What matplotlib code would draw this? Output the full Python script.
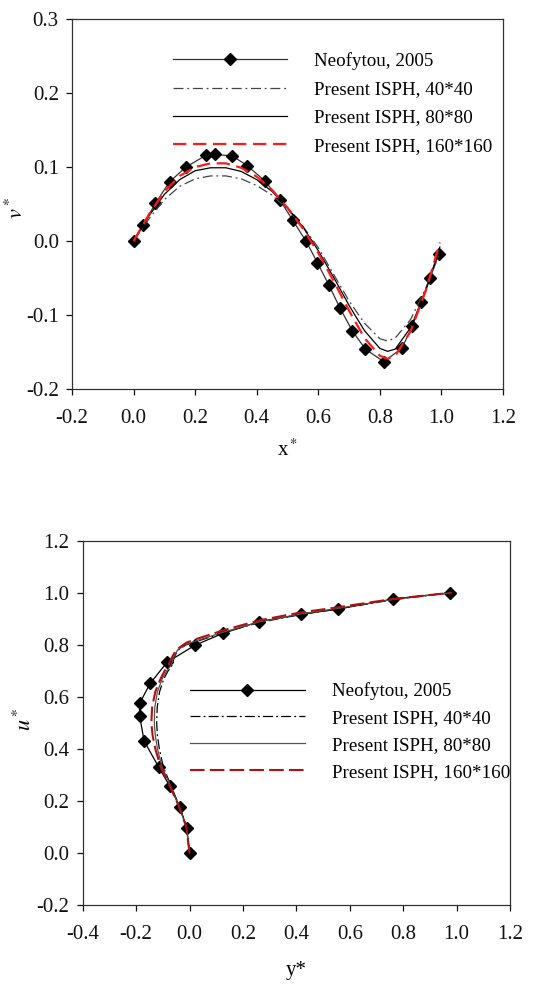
import matplotlib
matplotlib.use("Agg")
import matplotlib.pyplot as plt

plt.rcParams["font.family"] = ["Liberation Serif", "DejaVu Serif"]
plt.rcParams["mathtext.fontset"] = "stix"

# top panel: v* along x*
ref_x = [0.0, 0.032, 0.071, 0.117, 0.170, 0.236, 0.264, 0.321, 0.369, 0.427, 0.475, 0.517,
         0.560, 0.597, 0.635, 0.670, 0.710, 0.753, 0.813, 0.871, 0.906, 0.933, 0.963, 0.991]
ref_v = [0.0, 0.022, 0.051, 0.080, 0.100, 0.116, 0.117, 0.115, 0.102, 0.081, 0.056, 0.028,
         0.0, -0.029, -0.060, -0.090, -0.121, -0.146, -0.163, -0.145, -0.115, -0.083, -0.050, -0.017]

isph_x = [0.0, 0.05, 0.1, 0.15, 0.2, 0.25, 0.3, 0.35, 0.4, 0.45, 0.5, 0.55, 0.6, 0.65, 0.7,
          0.75, 0.8, 0.825, 0.85, 0.9, 0.95, 0.995]
v_40 = [0.0, 0.030, 0.056, 0.074, 0.084, 0.088, 0.088, 0.084, 0.075, 0.062, 0.043, 0.020,
        -0.009, -0.045, -0.081, -0.111, -0.132, -0.135, -0.131, -0.106, -0.063, -0.016]
v_80 = [0.0, 0.034, 0.063, 0.083, 0.095, 0.099, 0.099, 0.094, 0.083, 0.067, 0.045, 0.019,
        -0.013, -0.049, -0.087, -0.121, -0.145, -0.149, -0.146, -0.117, -0.066, -0.008]
v_160 = [0.0, 0.036, 0.067, 0.088, 0.100, 0.105, 0.105, 0.099, 0.087, 0.069, 0.045, 0.017,
         -0.016, -0.054, -0.094, -0.131, -0.155, -0.159, -0.155, -0.122, -0.066, -0.002]

# bottom panel: u* along y*
ref_y = [0.0, -0.010, -0.037, -0.074, -0.115, -0.170, -0.187, -0.187, -0.147, -0.084, 0.022,
         0.125, 0.262, 0.416, 0.556, 0.762, 0.977]
ref_u = [0.0, 0.096, 0.178, 0.257, 0.329, 0.430, 0.528, 0.575, 0.652, 0.733, 0.799,
         0.844, 0.889, 0.917, 0.937, 0.976, 1.000]

u_pts = [0.0, 0.1, 0.18, 0.26, 0.33, 0.40, 0.45, 0.50, 0.56, 0.62, 0.67, 0.70, 0.72, 0.755, 0.78]
y_40 = [0.0, -0.012, -0.038, -0.070, -0.098, -0.113, -0.120, -0.123, -0.121, -0.112, -0.096,
        -0.080, -0.066, -0.056, -0.043]
y_80 = [0.0, -0.012, -0.040, -0.072, -0.103, -0.120, -0.128, -0.132, -0.130, -0.120, -0.102,
        -0.085, -0.070, -0.058, -0.045]
y_160 = [0.0, -0.012, -0.040, -0.075, -0.108, -0.128, -0.138, -0.143, -0.140, -0.128, -0.108,
         -0.093, -0.080, -0.064, -0.050]
# upper branch, shared y* positions
top_y = [-0.012, 0.025, 0.125, 0.262, 0.416, 0.556, 0.762, 0.98]
top_u_40 = [0.800, 0.812, 0.846, 0.886, 0.916, 0.938, 0.973, 1.0]
top_u_80 = [0.802, 0.815, 0.848, 0.888, 0.918, 0.940, 0.974, 1.0]
top_u_160 = [0.808, 0.822, 0.855, 0.894, 0.924, 0.944, 0.976, 1.0]

labels = ["Neofytou, 2005", "Present ISPH, 40*40", "Present ISPH, 80*80", "Present ISPH, 160*160"]


def style_axes(ax):
    for s in ax.spines.values():
        s.set_color("#333333")
        s.set_linewidth(0.9)
    ax.tick_params(direction="out", length=4.5, width=0.9, labelsize=15, colors="#111111",
                   top=False, right=False)
    ax.tick_params(axis="x", pad=10)
    ax.tick_params(axis="y", pad=5)


fig = plt.figure(figsize=(5.43, 9.85), dpi=100)

# ---- top
ax1 = fig.add_axes([0.1326, 0.605, 0.7937, 0.3757])
ax1.plot(ref_x, ref_v, color="#333333", lw=0.9, marker="D", ms=6, mfc="black", mec="black",
         label=labels[0])
ax1.plot(isph_x, v_40, color="#444444", lw=0.9, dashes=(8, 3, 1.5, 3), label=labels[1])
ax1.plot(isph_x, v_80, color="black", lw=0.9, label=labels[2])
ax1.plot(isph_x, v_160, color="#ff1a1a", lw=1.6, dashes=(6, 3), label=labels[3])
ax1.set_xlim(-0.2, 1.2)
ax1.set_ylim(-0.2, 0.3)
ax1.set_xticks([-0.2, 0.0, 0.2, 0.4, 0.6, 0.8, 1.0, 1.2])
ax1.set_yticks([-0.2, -0.1, 0.0, 0.1, 0.2, 0.3])
ax1.set_xticklabels(["-0.2", "0.0", "0.2", "0.4", "0.6", "0.8", "1.0", "1.2"])
ax1.set_yticklabels(["-0.2", "-0.1", "0.0", "0.1", "0.2", "0.3"])
style_axes(ax1)
ax1.set_xlabel(r"x$^*$", fontsize=15)
ax1.xaxis.set_label_coords(0.5, -0.135)
ax1.set_ylabel(r"$v^*$", fontsize=16)
ax1.yaxis.set_label_coords(-0.102, 0.49)
ax1.legend(loc="upper left", bbox_to_anchor=(0.234, 0.911), frameon=False, fontsize=13.7,
           handlelength=6.0, handletextpad=1.4, labelspacing=0.58, borderpad=0,
           borderaxespad=0)

# ---- bottom
ax2 = fig.add_axes([0.1523, 0.0812, 0.7869, 0.3699])
ax2.plot(ref_y, ref_u, color="black", lw=0.9, marker="D", ms=6, mfc="black", mec="black",
         label=labels[0])
ax2.plot(y_40 + top_y, u_pts + top_u_40, color="black", lw=0.9, dashes=(8, 2.5, 1.5, 2.5),
         label=labels[1])
ax2.plot(y_80 + top_y, u_pts + top_u_80, color="#555555", lw=0.9, label=labels[2])
ax2.plot(y_160 + top_y, u_pts + top_u_160, color="#b01010", lw=1.5, dashes=(7, 2.5),
         label=labels[3])
ax2.set_xlim(-0.4, 1.2)
ax2.set_ylim(-0.2, 1.2)
ax2.set_xticks([-0.4, -0.2, 0.0, 0.2, 0.4, 0.6, 0.8, 1.0, 1.2])
ax2.set_yticks([-0.2, 0.0, 0.2, 0.4, 0.6, 0.8, 1.0, 1.2])
ax2.set_xticklabels(["-0.4", "-0.2", "0.0", "0.2", "0.4", "0.6", "0.8", "1.0", "1.2"])
ax2.set_yticklabels(["-0.2", "0.0", "0.2", "0.4", "0.6", "0.8", "1.0", "1.2"])
style_axes(ax2)
ax2.set_xlabel("y*", fontsize=15)
ax2.xaxis.set_label_coords(0.5, -0.155)
ax2.set_ylabel(r"$u^*$", fontsize=16)
ax2.yaxis.set_label_coords(-0.11, 0.51)
ax2.legend(loc="upper left", bbox_to_anchor=(0.252, 0.611), frameon=False, fontsize=13.7,
           handlelength=6.0, handletextpad=1.45, labelspacing=0.5, borderpad=0,
           borderaxespad=0)

fig.savefig("out.png", dpi=100)
